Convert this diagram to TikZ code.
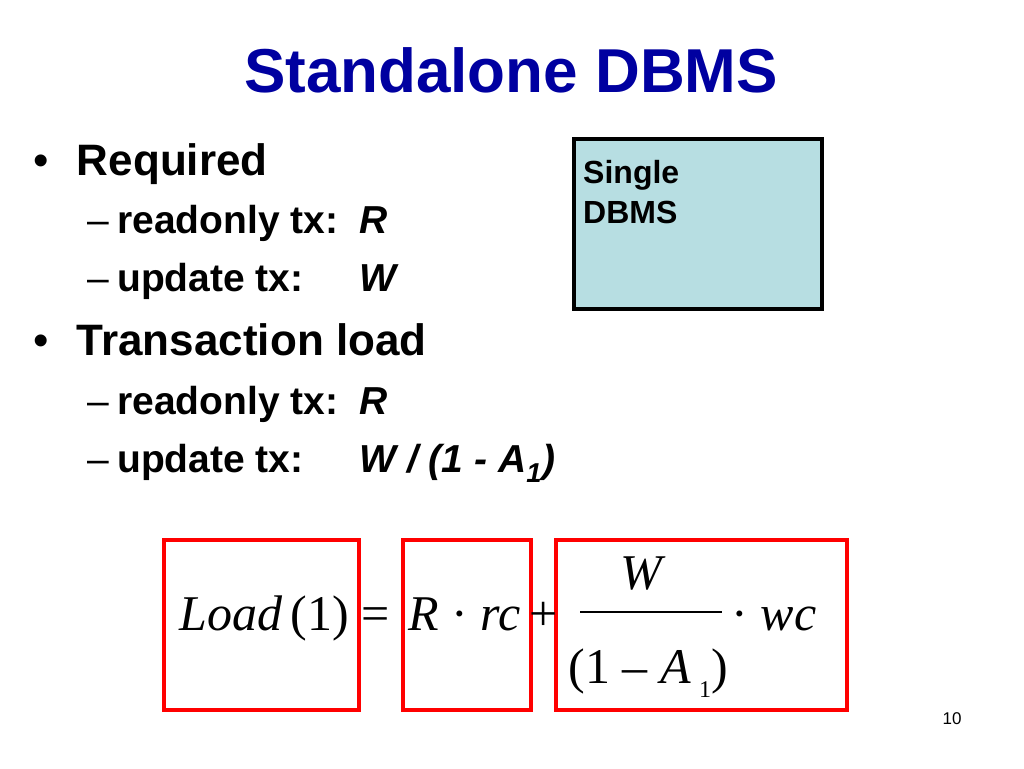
\documentclass[tikz,border=0pt]{standalone}
\usepackage{fontspec}
\setmainfont{Liberation Sans}
\newfontfamily\eqf{Liberation Serif}
\definecolor{titleblue}{RGB}{0,0,160}
\definecolor{boxcyan}{RGB}{183,222,226}
\begin{document}
\begin{tikzpicture}[x=1pt,y=-1pt,
  lvlone/.style={anchor=base west,font=\fontsize{44}{44}\selectfont\bfseries},
  lvltwo/.style={anchor=base west,font=\fontsize{39}{39}\selectfont\bfseries},
  eq/.style={anchor=base west,font=\eqf\fontsize{50}{50}\selectfont},
  redbox/.style={draw=red,line width=4pt}]
\useasboundingbox (0,0) rectangle (1024,768);
\node[anchor=base,text=titleblue,font=\fontsize{62}{62}\selectfont\bfseries] (title) at (511,92) {Standalone DBMS};
\node[lvlone] (b1) at (30,175) {\textmd{•}\hspace{28pt}Required};
\node[lvltwo] (s1) at (84,233) {\textmd{–}\hspace{8pt}readonly tx:};
\node[lvltwo] (s1v) at (356,233) {\itshape R};
\node[lvltwo] (s2) at (84,291) {\textmd{–}\hspace{8pt}update tx:};
\node[lvltwo] (s2v) at (356,291) {\itshape W};
\node[lvlone] (b2) at (30,355) {\textmd{•}\hspace{28pt}Transaction load};
\node[lvltwo] (s3) at (84,414) {\textmd{–}\hspace{8pt}readonly tx:};
\node[lvltwo] (s3v) at (356,414) {\itshape R};
\node[lvltwo] (s4) at (84,472) {\textmd{–}\hspace{8pt}update tx:};
\node[lvltwo] (s4v) at (356,472) {\itshape W / (1 - A\textsubscript{1})};
\node[draw,line width=4pt,fill=boxcyan,minimum width=248pt,minimum height=170pt,anchor=north west] (db) at (572,137) {};
\node[anchor=north west,align=left,inner sep=0pt,font=\fontsize{32}{40}\selectfont\bfseries] (dbt) at (583,160) {Single\\DBMS};
\node[redbox,minimum width=195pt,minimum height=170pt,anchor=north west] (r1) at (162,538) {};
\node[redbox,minimum width=128pt,minimum height=170pt,anchor=north west] (r2) at (401,538) {};
\node[redbox,minimum width=291pt,minimum height=170pt,anchor=north west] (r3) at (554,538) {};
\node[eq] (e1) at (176,630) {\itshape Load\upshape\,(1)};
\node[eq] (e2) at (358,630) {=};
\node[eq] (e3) at (405,630) {\itshape R\upshape~·~\itshape rc};
\node[eq] (e4) at (526,630) {+};
\node[eq] (e5) at (617,589) {\itshape W};
\coordinate (fa) at (580,612);
\coordinate (fb) at (722,612);
\draw[line width=2pt] (fa) -- (fb);
\node[eq] (e6) at (565,683) {(1 –~\itshape A\upshape\,\raisebox{-14pt}{\fontsize{24}{24}\selectfont 1})};
\node[eq] (e7) at (728,630) {·~\itshape wc};
\node[anchor=base,font=\fontsize{17}{17}\selectfont] (pg) at (952,724) {10};
\end{tikzpicture}
\end{document}
